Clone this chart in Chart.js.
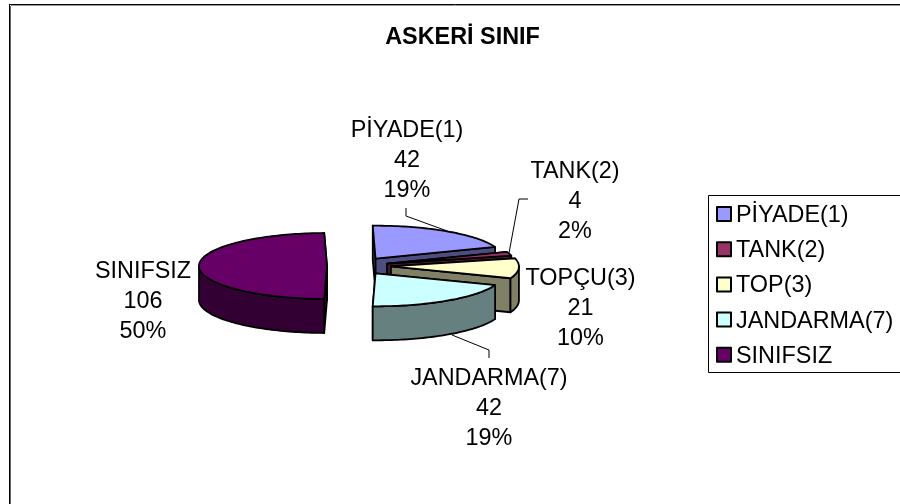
<!DOCTYPE html>
<html><head><meta charset="utf-8">
<style>html,body{margin:0;padding:0;background:#fff}canvas{display:block}</style>
<script src="https://cdn.jsdelivr.net/npm/chart.js@4"></script>
</head><body>
<div style="position:relative;width:900px;height:504px"><canvas id="c" width="900" height="504"></canvas></div>
<script>
const titleText = 'ASKERİ SINIF';
const categories = ['PİYADE(1)', 'TANK(2)', 'TOP(3)', 'JANDARMA(7)', 'SINIFSIZ'];
const calloutNames = ['PİYADE(1)', 'TANK(2)', 'TOPÇU(3)', 'JANDARMA(7)', 'SINIFSIZ'];
const values = [42, 4, 21, 42, 106];
const percents = ['19%', '2%', '10%', '19%', '50%'];
const topColors = ['#9999FF', '#993366', '#FFFFCC', '#CCFFFF', '#660066'];
const sideColors = ['#4D4D80', '#4D1A33', '#808066', '#668080', '#330033'];
const explode = [44, 38, 40, 44, 24];

const FONT = '"Liberation Sans", Arial, sans-serif';
const TILT = 33 / 128, EXPLODE_TILT = 0.2, DEPTH = 34;

// callout placement: centre x and first line middle y, plus leader polyline
const callouts = [
  {x: 407, y: 130.5, leader: [[406, 208], [406, 216], [450, 232]]},
  {x: 575, y: 171.5, leader: [[528, 199], [519, 199], [509, 253]]},
  {x: 580.5, y: 278.5, leader: null},
  {x: 489, y: 378.5, leader: [[452, 335], [489, 350], [489, 358]]},
  {x: 143, y: 271.5, leader: null}
];

function project(arc, i, angle, r) {
  const mid = (arc.startAngle + arc.endAngle) / 2;
  const ox = Math.cos(mid) * explode[i], oy = Math.sin(mid) * explode[i] * EXPLODE_TILT;
  return [arc.x + ox + Math.cos(angle) * r, arc.y + oy + Math.sin(angle) * r * TILT];
}
function polygon(ctx, pts, fill) {
  ctx.beginPath();
  pts.forEach((p, k) => k ? ctx.lineTo(p[0], p[1]) : ctx.moveTo(p[0], p[1]));
  ctx.closePath();
  ctx.fillStyle = fill; ctx.fill();
  ctx.lineWidth = 1.8; ctx.strokeStyle = '#000'; ctx.lineJoin = 'round'; ctx.stroke();
}
function rimPoints(arc, i, a0, a1, dy) {
  const pts = [], n = Math.max(2, Math.ceil(Math.abs(a1 - a0) * 40));
  for (let k = 0; k <= n; k++) {
    const p = project(arc, i, a0 + (a1 - a0) * k / n, arc.outerRadius);
    pts.push([p[0], p[1] + dy]);
  }
  return pts;
}

const pie3d = {
  id: 'pie3d',
  beforeDatasetDraw(chart, args) {
    const ctx = chart.ctx, arcs = args.meta.data;
    [4, 0, 1, 2, 3].forEach(i => {
      const arc = arcs[i], s = arc.startAngle, e = arc.endAngle, R = arc.outerRadius;
      const A = project(arc, i, 0, 0), P0 = project(arc, i, s, R), P1 = project(arc, i, e, R);
      const down = p => [p[0], p[1] + DEPTH];
      polygon(ctx, [A, P0, down(P0), down(A)], sideColors[i]);
      polygon(ctx, [A, P1, down(P1), down(A)], sideColors[i]);
      const norm = a => { while (a < 0) a += 2 * Math.PI; while (a >= 2 * Math.PI) a -= 2 * Math.PI; return a; };
      const a0 = norm(s), a1 = a0 + (e - s);
      const lo = Math.max(a0, 0), hi = Math.min(a1, Math.PI);
      if (hi > lo) polygon(ctx, rimPoints(arc, i, lo, hi, 0).concat(rimPoints(arc, i, hi, lo, DEPTH)), sideColors[i]);
      const lo2 = Math.max(a0, 2 * Math.PI), hi2 = Math.min(a1, 3 * Math.PI);
      if (hi2 > lo2) polygon(ctx, rimPoints(arc, i, lo2, hi2, 0).concat(rimPoints(arc, i, hi2, lo2, DEPTH)), sideColors[i]);
      const mid = (s + e) / 2;
      ctx.save();
      ctx.translate(arc.x + Math.cos(mid) * explode[i], arc.y + Math.sin(mid) * explode[i] * EXPLODE_TILT);
      ctx.scale(1, TILT);
      ctx.translate(-arc.x, -arc.y);
      arc.draw(ctx, chart.chartArea);
      ctx.restore();
      ctx.beginPath();
      ctx.moveTo(A[0], A[1]);
      rimPoints(arc, i, s, e, 0).forEach(p => ctx.lineTo(p[0], p[1]));
      ctx.closePath();
      ctx.lineWidth = 1.8; ctx.strokeStyle = '#000'; ctx.lineJoin = 'round'; ctx.stroke();
    });
    return false;
  },
  afterDraw(chart) {
    const ctx = chart.ctx;
    ctx.save();
    // chart frame: only the top and left edges fall inside the picture
    ctx.lineWidth = 1;
    ctx.strokeStyle = '#000';
    ctx.beginPath(); ctx.moveTo(900, 4.5); ctx.lineTo(9, 4.5); ctx.stroke();
    ctx.beginPath(); ctx.moveTo(9.5, 4); ctx.lineTo(9.5, 504); ctx.stroke();
    ctx.strokeStyle = '#999';
    ctx.beginPath(); ctx.moveTo(900, 5.5); ctx.lineTo(11, 5.5); ctx.stroke();
    ctx.strokeStyle = '#666';
    ctx.beginPath(); ctx.moveTo(10.5, 6); ctx.lineTo(10.5, 504); ctx.stroke();
    // title
    ctx.fillStyle = '#000'; ctx.textBaseline = 'middle'; ctx.textAlign = 'center';
    ctx.font = 'bold 23.4px ' + FONT;
    ctx.fillText(titleText, 462.5, 37.5);
    // callouts
    ctx.font = '23.4px ' + FONT;
    callouts.forEach((c, i) => {
      [calloutNames[i], String(values[i]), percents[i]].forEach((t, k) => ctx.fillText(t, c.x, c.y + k * 30));
      if (c.leader) {
        ctx.beginPath(); ctx.lineWidth = 1; ctx.strokeStyle = '#000';
        c.leader.forEach((p, k) => k ? ctx.lineTo(p[0], p[1]) : ctx.moveTo(p[0], p[1]));
        ctx.stroke();
      }
    });
    // legend, whose right edge runs off the picture
    ctx.strokeStyle = '#000'; ctx.lineWidth = 1;
    ctx.strokeRect(708.5, 195.5, 200, 177);
    ctx.textAlign = 'left';
    categories.forEach((t, i) => {
      const y = 214 + i * 35.2;
      ctx.fillStyle = topColors[i]; ctx.fillRect(717, y - 7, 14, 14);
      ctx.lineWidth = 2; ctx.strokeRect(717, y - 7, 14, 14);
      ctx.fillStyle = '#000'; ctx.fillText(t, 736, y + 1.5);
    });
    ctx.restore();
  }
};

new Chart(document.getElementById('c'), {
  type: 'pie',
  data: {labels: categories, datasets: [{data: values, backgroundColor: topColors, borderWidth: 0, radius: 128}]},
  options: {
    responsive: false, animation: false, rotation: -1.25,
    layout: {padding: {left: 0, right: 198, top: 28, bottom: 0}},
    plugins: {legend: {display: false}, title: {display: false}, tooltip: {enabled: false}}
  },
  plugins: [pie3d]
});
</script>
</body></html>
